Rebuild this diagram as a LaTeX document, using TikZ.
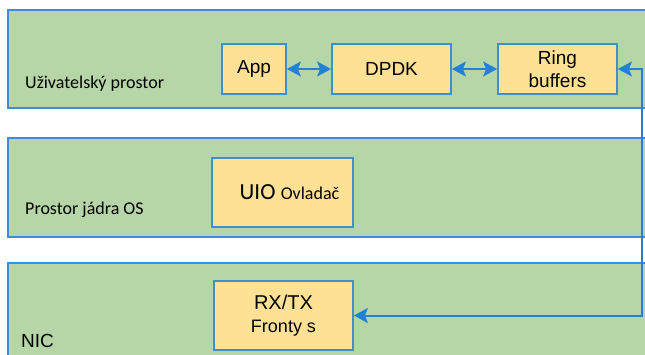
\documentclass[tikz,border=0pt]{standalone}
\usepackage{fontspec}
\setmainfont{Liberation Sans}
\newfontfamily\calfont{Carlito}
\usetikzlibrary{arrows.meta}

\definecolor{bandgreen}{RGB}{182,214,167}
\definecolor{edgeblue}{RGB}{62,142,208}
\definecolor{boxyellow}{RGB}{255,225,150}
\definecolor{arrowblue}{RGB}{35,128,215}

\begin{document}
\begin{tikzpicture}[x=1pt,y=-1pt,
  band/.style={fill=bandgreen,draw=edgeblue,line width=1.8pt},
  unit/.style={fill=boxyellow,draw=edgeblue,line width=1.8pt,inner sep=0pt,
               align=center,font=\fontsize{19}{23}\selectfont},
  layer/.style={anchor=base west,inner sep=0pt,font=\calfont\fontsize{18}{22}\selectfont},
  link/.style={draw=arrowblue,line width=2pt,
               arrows={Stealth[length=14pt,width=15pt,inset=3pt]-Stealth[length=14pt,width=15pt,inset=3pt]}}
]
\useasboundingbox (0,0) rectangle (645,354);
\clip (0,0) rectangle (645,354);

% three layers
\path[band] (8,10) rectangle (660,108);
\path[band] (8,138) rectangle (660,237);
\path[band] (8,263) rectangle (660,380);

% layer names
\node[layer] (user) at (25,88) {Uživatelský prostor};
\node[layer] (kernel) at (25,214) {Prostor jádra OS};
\node[layer,font=\fontsize{19}{22}\selectfont] (nic) at (21,347) {NIC};

% components
\node[unit,minimum width=64pt,minimum height=50pt] (app) at (254,69) {App};
\node[unit,minimum width=119pt,minimum height=50pt] (dpdk) at (391.5,69) {DPDK};
\node[unit,minimum width=119pt,minimum height=50pt] (ring) at (557.5,69) {Ring\\buffers};
\node[unit,minimum width=141pt,minimum height=69pt] (uio) at (282.5,192.5)
  {\hspace*{14pt}{\calfont\fontsize{23}{26}\selectfont UIO} {\calfont\fontsize{18}{22}\selectfont Ovladač}};
\node[unit,minimum width=139pt,minimum height=69pt] (rx) at (283.5,315.5)
  {{\fontsize{20}{24}\selectfont RX/TX}\\{\fontsize{18}{24}\selectfont Fronty s}};

% data paths
\coordinate (turn) at (642,69);
\draw[link] (app) -- (dpdk);
\draw[link] (dpdk) -- (ring);
\draw[link] (ring.east) -- (turn) |- (rx.east);
\end{tikzpicture}
\end{document}
